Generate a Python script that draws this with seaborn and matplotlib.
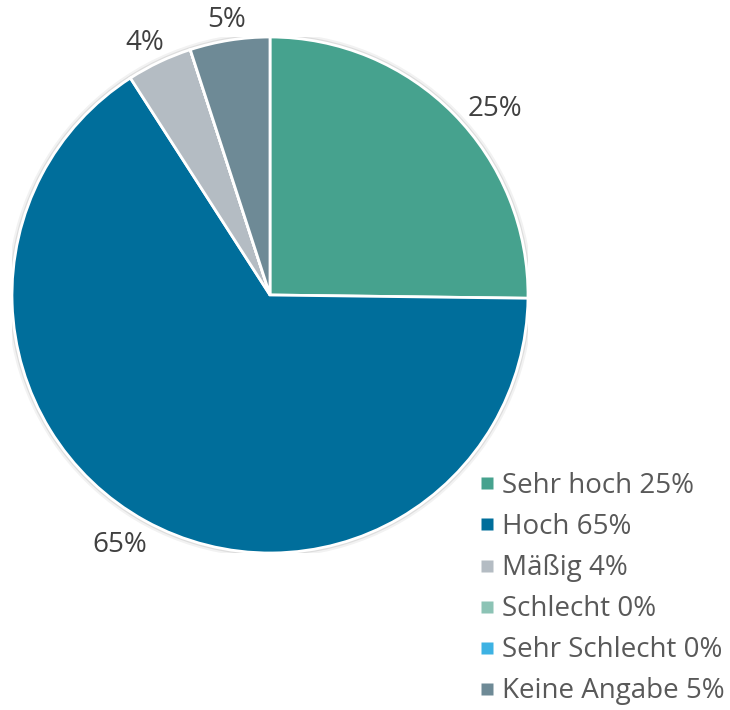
import numpy as np
import seaborn as sns
import matplotlib.pyplot as plt
from matplotlib.lines import Line2D
from matplotlib.patches import Circle

categories = ['Sehr hoch', 'Hoch', 'Mäßig', 'Schlecht', 'Sehr Schlecht', 'Keine Angabe']
values = [25.2, 65.7, 4.1, 0.0, 0.0, 5.0]
shown_pct = ['25%', '65%', '4%', '0%', '0%', '5%']
colors = ['#46A28E', '#006E9B', '#B4BCC3', '#8CC3B5', '#3DB2E3', '#6E8A96']

sns.set_theme(style='white')
plt.rcParams['font.family'] = ['Open Sans', 'DejaVu Sans']

fig = plt.figure(figsize=(7.3, 7.1), dpi=100)
ax = fig.add_axes([12 / 730, 157 / 710, 516 / 730, 516 / 710])

# faint shadow ring behind the pie
for r, a in [(1.018, 0.10), (1.010, 0.18)]:
    ax.add_patch(Circle((0, 0), r, facecolor='#808080', alpha=a, edgecolor='none', zorder=0))

wedges, _ = ax.pie(values, colors=colors, startangle=90, counterclock=False,
                   radius=1, wedgeprops=dict(edgecolor='white', linewidth=2, zorder=1))
ax.set_xlim(-1, 1)
ax.set_ylim(-1, 1)
ax.set_aspect('equal')
ax.axis('off')

# percentage labels outside the wedges (best-fit style nudges)
total = sum(values)
start = 0.0
dists = [1.13, 1.13, 1.09, 1.1, 1.1, 1.08]
nudge_deg = [5.0, 2.0, -1.0, 0, 0, 0]
for v, lab, d, nd in zip(values, shown_pct, dists, nudge_deg):
    if v > 0:
        mid = (start + v / 2) / total * 2 * np.pi + np.radians(nd)
        ax.text(d * np.sin(mid), d * np.cos(mid), lab, ha='center', va='center',
                fontsize=20, color='#404040', clip_on=False)
    start += v

handles = [Line2D([0], [0], marker='s', linestyle='none', markersize=9,
                  markerfacecolor=c, markeredgecolor='none') for c in colors]
legend_labels = [f'{c} {p}' for c, p in zip(categories, shown_pct)]
fig.legend(handles, legend_labels, loc='upper left', bbox_to_anchor=(470 / 730, 1 - 461 / 710),
           frameon=False, fontsize=20, labelcolor='#595959', handlelength=0.45,
           handletextpad=0.3, labelspacing=0.47, borderaxespad=0)

fig.savefig('out.png', dpi=100)
